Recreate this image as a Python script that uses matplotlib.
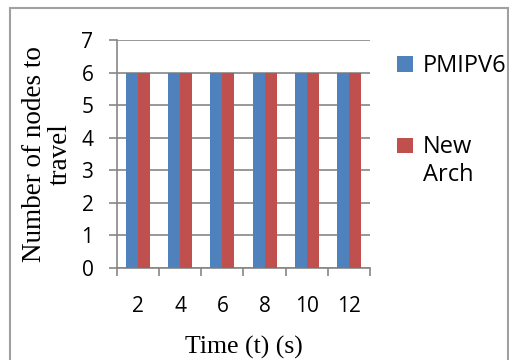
import matplotlib
matplotlib.use("Agg")
import matplotlib.pyplot as plt
from matplotlib.patches import Rectangle
import numpy as np

# Chart data
times = ["2", "4", "6", "8", "10", "12"]
pmipv6 = [6, 6, 6, 6, 6, 6]
newArch = [6, 6, 6, 6, 6, 6]

BLUE = "#4F81BD"
RED = "#C0504D"
GRID = "#868686"

fig = plt.figure(figsize=(5.1, 3.6), dpi=100)
ax = fig.add_axes([117/510, 1-268/360, 253/510, 228/360])

x = np.arange(len(times))
w = 0.284
ax.bar(x - w/2, pmipv6, width=w, color=BLUE, label="PMIPV6", zorder=3)
ax.bar(x + w/2, newArch, width=w, color=RED, label="New\nArch", zorder=3)

ax.set_xlim(-0.5, len(times) - 0.5)
ax.set_ylim(0, 7)
ax.set_yticks(range(0, 8))
ax.yaxis.grid(True, color=GRID, linewidth=1.2, zorder=0)

# category labels in the middle, tick marks on the boundaries
ax.set_xticks(x)
ax.set_xticklabels(times)
ax.set_xticks(np.arange(-0.5, len(times)), minor=True)
ax.tick_params(axis="x", which="major", length=0, pad=20.5, labelsize=15)
ax.tick_params(axis="x", which="minor", length=6, width=1.2, color=GRID)
ax.tick_params(axis="y", length=6, width=1.2, color=GRID, pad=11, labelsize=15)
for lab in ax.get_xticklabels() + ax.get_yticklabels():
    lab.set_family("Open Sans")

for s in ["top", "right"]:
    ax.spines[s].set_visible(False)
for s in ["left", "bottom"]:
    ax.spines[s].set_color(GRID)
    ax.spines[s].set_linewidth(1.2)

ax.set_xlabel("Time (t) (s)", family="Liberation Serif", fontsize=18.5, labelpad=13)
ax.set_ylabel("Number of nodes to\ntravel", family="Liberation Serif", fontsize=19.5,
              labelpad=6, linespacing=1.05)

leg = fig.legend(loc="upper left", bbox_to_anchor=(376/510, 1-33/360), frameon=False,
                 prop={"family": "Open Sans", "size": 17}, handlelength=0.65,
                 handleheight=0.65, handletextpad=0.45, labelspacing=2.4)
# put the red square next to the first line of its two-line label
h = leg.legend_handles[1]
h.set_y(h.get_y() + 11.5)

# outer chart frame
fig.patches.append(Rectangle((10/510, -0.05), 498/510, 1.05 - 8/360, transform=fig.transFigure,
                             fill=False, edgecolor="#a0a0a0", linewidth=1.5))

fig.savefig("out.png", dpi=100)
